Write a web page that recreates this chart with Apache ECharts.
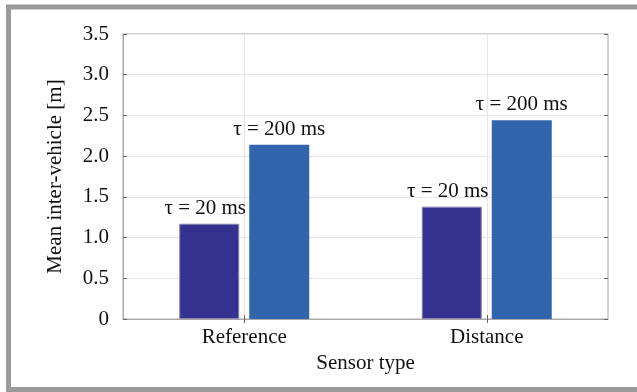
<!DOCTYPE html>
<html>
<head>
<meta charset="utf-8">
<style>
  html, body { margin: 0; padding: 0; background: #fff; }
  #chart { width: 637px; height: 392px; }
</style>
<script src="https://cdn.jsdelivr.net/npm/echarts@6/dist/echarts.min.js"></script>
</head>
<body>
<div id="chart"></div>
<script>
// Sensor types on the x axis
const categories = ['Reference', 'Distance'];
// Mean inter-vehicle distance for each delay setting
const seriesNames = ['\u03c4 = 20 ms', '\u03c4 = 200 ms'];
const tau20 = [1.17, 1.38];
const tau200 = [2.14, 2.44];
// Y tick labels
const yTickLabels = ['0', '0.5', '1.0', '1.5', '2.0', '2.5', '3.0', '3.5'];

const FONT = '"Liberation Serif", "Times New Roman", serif';
const FS = 21;
const colors = ['#35318f', '#3264ae'];

const chart = echarts.init(document.getElementById('chart'), null, { renderer: 'canvas' });

const tickStyle = { show: true, inside: true, length: 4, lineStyle: { color: '#666', width: 1 } };

chart.setOption({
  animation: false,
  backgroundColor: '#fff',
  graphic: [{
    type: 'rect',
    shape: { x: 8.5, y: 7, width: 720, height: 382.5 },
    style: { fill: 'none', stroke: '#9a9a9a', lineWidth: 5 },
    silent: true
  }],
  grid: {
    left: 123, top: 34, right: 29, bottom: 73,
    show: true, borderColor: '#a8a8a8', borderWidth: 1, backgroundColor: 'transparent'
  },
  xAxis: [{
    type: 'category',
    data: categories,
    position: 'bottom',
    name: 'Sensor type',
    nameLocation: 'middle',
    nameGap: 28,
    nameTextStyle: { fontFamily: FONT, fontSize: FS, color: '#111' },
    axisLine: { show: true, lineStyle: { color: '#a8a8a8' } },
    axisTick: Object.assign({ alignWithLabel: true }, tickStyle),
    axisLabel: { fontFamily: FONT, fontSize: FS, color: '#111', margin: 8 },
    splitLine: { show: true, alignWithLabel: true, lineStyle: { color: '#e6e6e6', width: 1 } }
  }, {
    type: 'category',
    data: categories,
    position: 'top',
    axisLine: { show: false },
    axisTick: Object.assign({ alignWithLabel: true }, tickStyle),
    axisLabel: { show: false },
    splitLine: { show: false }
  }],
  yAxis: [{
    type: 'value',
    min: 0, max: 3.5, interval: 0.5,
    name: 'Mean inter-vehicle [m]',
    nameLocation: 'middle',
    nameGap: 57,
    nameTextStyle: { fontFamily: FONT, fontSize: FS, color: '#111' },
    axisLine: { show: true, lineStyle: { color: '#a8a8a8' } },
    axisTick: tickStyle,
    axisLabel: {
      fontFamily: FONT, fontSize: FS, color: '#111', margin: 14,
      formatter: (v) => yTickLabels[Math.round(v / 0.5)]
    },
    splitLine: { show: true, lineStyle: { color: '#e6e6e6', width: 1 } }
  }, {
    type: 'value',
    min: 0, max: 3.5, interval: 0.5,
    position: 'right',
    axisLine: { show: false },
    axisTick: tickStyle,
    axisLabel: { show: false },
    splitLine: { show: false }
  }],
  series: [{
    name: seriesNames[0],
    type: 'bar',
    data: tau20,
    barWidth: 60,
    barGap: '16.7%',
    itemStyle: { color: colors[0], borderColor: '#8a87b0', borderWidth: 1 },
    label: {
      show: true, position: 'top', distance: 5, offset: [-4, 0],
      formatter: '{a}',
      fontFamily: FONT, fontSize: FS, color: '#111'
    }
  }, {
    name: seriesNames[1],
    type: 'bar',
    data: tau200,
    barWidth: 60,
    itemStyle: { color: colors[1] },
    label: {
      show: true, position: 'top', distance: 5,
      formatter: '{a}',
      fontFamily: FONT, fontSize: FS, color: '#111'
    }
  }]
});
</script>
</body>
</html>
